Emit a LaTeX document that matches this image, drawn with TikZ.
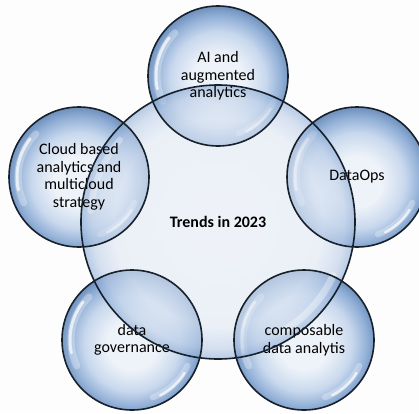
\documentclass[tikz,border=0pt]{standalone}
\usepackage{fontspec}
\setmainfont{Carlito}
\definecolor{bg}{HTML}{FDFDFD}
\definecolor{bubC}{HTML}{EDF2F9}
\definecolor{bubM}{HTML}{C2D4EC}
\definecolor{bubE}{HTML}{84A6D2}
\definecolor{bubD}{HTML}{5A80B3}
\definecolor{coreC}{HTML}{E6ECF6}
\definecolor{coreM}{HTML}{E0E8F4}
\definecolor{coreE}{HTML}{BACDE7}
\definecolor{coreD}{HTML}{8AAAD5}
\definecolor{rimcol}{HTML}{17212C}
% the path's bounding box spans -25bp..25bp of a radial shading
\pgfdeclareradialshading{bubble}{\pgfpoint{0bp}{-2bp}}{%
  color(0bp)=(bubC); color(9bp)=(bubC); color(17bp)=(bubM);
  color(22.5bp)=(bubE); color(26bp)=(bubD); color(50bp)=(bubD)}
\pgfdeclareradialshading{core}{\pgfpoint{0bp}{0bp}}{%
  color(0bp)=(coreC); color(19bp)=(coreM); color(23bp)=(coreE);
  color(25bp)=(coreD); color(50bp)=(coreD)}
\begin{document}
\begin{tikzpicture}[x=1pt,y=1pt,
  txt/.style={font=\fontsize{16}{17.5}\selectfont, align=center, text=black, inner sep=0pt},
  rim/.style={draw=rimcol, line width=1.6pt},
  gloss/.style={draw=white, line cap=round}]
\useasboundingbox (0,0) rectangle (419,413);
\fill[bg] (0,0) rectangle (419,413);

% centres of the five trend bubbles and of the hub
\coordinate (c)  at (218,191);
\coordinate (p1) at (218,337);
\coordinate (p2) at (357,236);
\coordinate (p3) at (304,73);
\coordinate (p4) at (132,73);
\coordinate (p5) at (79,236);

% bubble bodies with a soft gloss
\foreach \p in {p1,p2,p3,p4,p5}{
  \shade[shading=bubble, fill opacity=0.88] (\p) circle (70);
  \draw[gloss, line width=7pt, opacity=0.3] (\p) ++(135:61) arc (135:205:61);
  \draw[gloss, line width=3pt, opacity=0.7] (\p) ++(142:62) arc (142:192:62);
  \draw[gloss, line width=6pt, opacity=0.3] (\p) ++(290:61) arc (290:335:61);
  \draw[gloss, line width=2.5pt, opacity=0.7] (\p) ++(297:62) arc (297:328:62);
}

% hub body
\shade[shading=core, fill opacity=0.6] (c) circle (137);
\draw[gloss, line width=7pt, opacity=0.35] (c) ++(300:127) arc (300:335:127);
\draw[gloss, line width=6pt, opacity=0.3] (c) ++(140:128) arc (140:175:128);

% bubble outlines
\foreach \p in {p1,p2,p3,p4,p5}
  \draw[rim] (\p) circle (70);

% labels
\node[txt] (ai)    at (p1) {AI and\\augmented\\analytics};
\node[txt] (ops)   at (p2) {DataOps};
\node[txt] (comp)  at (p3) {composable\\data analytis};
\node[txt] (gov)   at (p4) {data\\governance};
\node[txt] (cloud) at (p5) {Cloud based\\analytics and\\multicloud\\strategy};

% hub outline and title
\draw[rim] (c) circle (137);
\node[txt, font=\fontsize{16}{17.5}\selectfont\bfseries] (hub) at (c) {Trends in 2023};
\end{tikzpicture}
\end{document}
